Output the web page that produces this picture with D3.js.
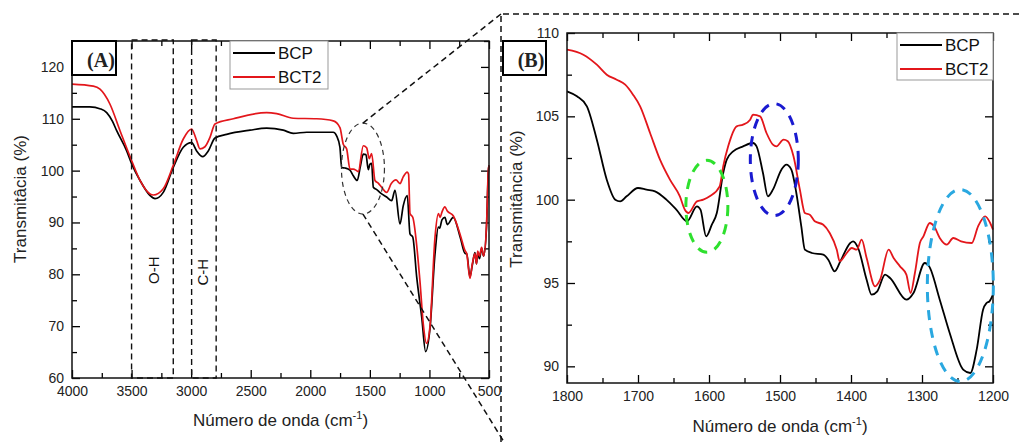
<!DOCTYPE html>
<html>
<head>
<meta charset="utf-8">
<script src="https://cdn.jsdelivr.net/npm/d3@7"></script>
<style>
body { margin: 0; background: #fff; }
svg { display: block; font-family: "Liberation Sans", Arial, sans-serif; }
</style>
</head>
<body>
<svg width="1022" height="442"></svg>
<script>
// FTIR spectra, [wavenumber, transmittance]
var seriesNames = ["BCP", "BCT2"];
var seriesColors = ["#000000", "#e3161b"];

var bcpA = [[4000,112.3],[3850,112.3],[3760,111.9],[3709,111.2],[3660,109.5],[3625,107.7],[3541,103.8],[3499,101.3],[3429,98.1],[3345,95.2],[3303,94.6],[3234,95.8],[3150,100.6],[3066,104.5],[2996,105.4],[2954,103.8],[2903,102.7],[2856,103.8],[2800,106.3],[2702,107],[2506,107.8],[2366,108.2],[2227,107.8],[2143,107.2],[2030,107.4],[1807,107.4],[1779,106.7],[1751,104.5],[1737,100.6],[1709,100.5],[1667,100.1],[1639,99.0],[1606,98.1],[1580,100.8],[1555,103.2],[1533,103.1],[1513,100.2],[1500,101.2],[1485,101.4],[1471,96.8],[1440,96.3],[1401,95.5],[1359,94.9],[1317,94.2],[1289,96.2],[1247,89.7],[1220,93.2],[1186,95.2],[1163,87.8],[1140,87.2],[1107,79.5],[1065,71.8],[1032,65.1],[995,69.6],[953,84],[925,89.1],[914,88.9],[895,90.5],[870,91],[850,89.6],[800,91],[740,87],[700,84],[687,84],[660,79.5],[640,81.8],[618,84.2],[605,82],[595,84],[580,83],[562,85],[545,83.5],[520,89.5],[506,99.5],[500,101]];

var bct2A = [[4000,116.7],[3821,116.3],[3765,115.7],[3681,112.8],[3597,107.7],[3499,101.9],[3429,98.1],[3345,95.5],[3317,95.3],[3234,96.5],[3150,101],[3066,106.1],[2996,108],[2954,105.8],[2926,104.2],[2884,104.6],[2842,106.4],[2800,109],[2646,110],[2366,111.2],[2282,111],[2143,110.1],[1947,110],[1807,109.6],[1751,108.3],[1723,105.1],[1695,104.2],[1667,100.3],[1639,100.3],[1611,100],[1597,99.8],[1555,104.8],[1527,104.4],[1505,102.3],[1485,103.3],[1457,98.1],[1430,97.6],[1401,96.8],[1359,95.8],[1320,97.5],[1281,98.2],[1247,97.5],[1220,98.8],[1186,99.7],[1175,99.3],[1163,91.7],[1140,91],[1080,78.8],[1052,70.5],[1024,66.7],[995,70],[953,87.2],[925,91.7],[910,91],[895,92],[870,93],[850,92.2],[800,91.3],[740,87.5],[700,84.5],[687,84],[660,79.2],[640,82],[618,84],[605,82],[595,84.5],[580,83.5],[562,85.2],[545,83.5],[520,90],[506,100],[500,101]];

var bcpB = [[1800,106.5],[1786,106.2],[1772,105.6],[1758,103.6],[1744,101.2],[1732,100.0],[1725,99.9],[1716,100.2],[1700,100.7],[1688,100.6],[1676,100.5],[1660,100],[1646,99.4],[1631,98.7],[1617,99.6],[1612,99.4],[1604,97.8],[1596,98.5],[1589,99.2],[1580,101.6],[1575,102.4],[1566,102.9],[1552,103.2],[1538,103.4],[1533,103.2],[1524,101.6],[1517,100.2],[1510,100.6],[1498,101.8],[1491,102.1],[1484,101.8],[1477,100.4],[1470,98.4],[1465,97],[1455,96.8],[1439,96.7],[1432,96.4],[1423,95.7],[1415,96.3],[1401,97.4],[1397,97.5],[1390,97.1],[1378,95.2],[1371,94.3],[1363,94.5],[1352,95.5],[1345,95.3],[1322,94.0],[1312,94.4],[1296,96.2],[1290,96.0],[1275,94],[1261,92],[1242,89.8],[1232,89.6],[1223,91],[1214,93.4],[1209,93.8],[1205,93.9],[1200,94.3]];

var bct2B = [[1800,109.0],[1777,108.7],[1758,108.1],[1744,107.5],[1730,107.2],[1718,106.9],[1707,106.3],[1697,105.6],[1683,104.0],[1669,102.4],[1655,101.2],[1641,100.2],[1634,99.4],[1629,99.2],[1617,99.9],[1608,100],[1599,100.2],[1585,100.8],[1580,102],[1573,103.2],[1561,104.4],[1552,104.5],[1542,104.8],[1538,105.1],[1528,105],[1519,104],[1510,103.3],[1505,103.2],[1495,103.6],[1489,103.5],[1481,102.6],[1472,100.6],[1465,99.2],[1458,99.1],[1451,98.7],[1439,98.5],[1430,98.0],[1420,97],[1416,96.3],[1406,96.8],[1399,97.1],[1392,97.0],[1385,97.6],[1378,96.5],[1366,94.8],[1359,95.2],[1347,97],[1340,96.5],[1331,96],[1322,95.5],[1316,94.4],[1310,95.6],[1303,97.4],[1298,97.8],[1289,98.6],[1283,98.4],[1275,97.7],[1265,97.3],[1256,97.7],[1245,97.5],[1230,97.4],[1221,98.4],[1211,99.0],[1204,98.6],[1200,98.2]];

var xTicksA = [4000,3500,3000,2500,2000,1500,1000,500];
var yTicksA = [60,70,80,90,100,110,120];
var xTicksB = [1800,1700,1600,1500,1400,1300,1200];
var yTicksB = [90,95,100,105,110];

// band markers in (A): [from, to, label]
var bandsA = [[3500,3150,"O-H"],[2996,2790,"C-H"]];
var bandLabelPos = [[3312,80.8],[2900,80.4]];

var svg = d3.select("svg");

function midTicks(t) {
    var out = [];
    for (var i = 0; i < t.length - 1; i++) out.push((t[i] + t[i+1]) / 2);
    return out;
}

function drawPanel(p) {
    var x = d3.scaleLinear().domain(p.xDomain).range([p.left, p.right]);
    var y = d3.scaleLinear().domain(p.yDomain).range([p.bottom, p.top]);
    var g = svg.append("g");

    function ax(axis, tr, vals, size, labels) {
        var a = axis.tickValues(vals).tickSize(size).tickSizeOuter(0).tickPadding(8)
            .tickFormat(labels ? d3.format("d") : "");
        var s = g.append("g").attr("transform", tr).call(a);
        s.select(".domain").remove();
        s.selectAll("line").attr("stroke", "#000").attr("stroke-width", 1.3);
        s.selectAll("text").attr("fill", "#222").style("font-size", "14px")
            .style("font-family", "'Liberation Sans', Arial, sans-serif");
    }
    var xMin = midTicks(p.xTicks).concat(p.xExtraMinor || []);
    var yMin = midTicks(p.yTicks).concat(p.yExtraMinor || []);
    ax(d3.axisBottom(x), "translate(0," + p.bottom + ")", p.xTicks, -8, true);
    ax(d3.axisBottom(x), "translate(0," + p.bottom + ")", xMin, -5, false);
    ax(d3.axisTop(x), "translate(0," + p.top + ")", p.xTicks, -8, false);
    ax(d3.axisTop(x), "translate(0," + p.top + ")", xMin, -5, false);
    ax(d3.axisLeft(y), "translate(" + p.left + ",0)", p.yTicks, -8, true);
    ax(d3.axisLeft(y), "translate(" + p.left + ",0)", yMin, -5, false);
    ax(d3.axisRight(y), "translate(" + p.right + ",0)", p.yTicks, -8, false);
    ax(d3.axisRight(y), "translate(" + p.right + ",0)", yMin, -5, false);

    var line = d3.line().x(function(d) { return x(d[0]); }).y(function(d) { return y(d[1]); })
        .curve(d3.curveMonotoneX);
    p.series.forEach(function(s, i) {
        g.append("path").datum(s).attr("fill", "none")
            .attr("stroke", seriesColors[i]).attr("stroke-width", p.lw)
            .attr("stroke-linejoin", "round").attr("d", line);
    });

    g.append("rect").attr("x", p.left).attr("y", p.top)
        .attr("width", p.right - p.left).attr("height", p.bottom - p.top)
        .attr("fill", "none").attr("stroke", "#111").attr("stroke-width", 1.5);

    // axis titles
    var xt = g.append("text").attr("x", (p.left + p.right) / 2 + p.xTitleDx).attr("y", p.xTitleY)
        .attr("text-anchor", "middle").style("font-size", "17px").attr("fill", "#222");
    xt.append("tspan").text("Número de onda (cm");
    xt.append("tspan").text("-1").attr("dy", -7).style("font-size", "11px");
    xt.append("tspan").text(")").attr("dy", 7);
    g.append("text").attr("transform", "translate(" + p.yTitleX + "," + p.yTitleY + ") rotate(-90)")
        .attr("text-anchor", "middle").style("font-size", "17px").attr("fill", "#222")
        .text(p.yTitle);

    // legend
    var L = p.legend;
    g.append("rect").attr("x", L.x).attr("y", L.y).attr("width", L.w).attr("height", L.h)
        .attr("fill", "#fff").attr("stroke", "#999").attr("stroke-width", 1);
    seriesNames.forEach(function(n, i) {
        var yy = L.y + 12 + i * 24;
        g.append("line").attr("x1", L.x + 3).attr("x2", L.x + 45).attr("y1", yy).attr("y2", yy)
            .attr("stroke", seriesColors[i]).attr("stroke-width", 2);
        g.append("text").attr("x", L.x + 48).attr("y", yy).attr("dy", "0.36em")
            .style("font-size", "17px").attr("fill", "#111").text(n);
    });

    // panel tag
    var T = p.tag;
    g.append("rect").attr("x", T.x).attr("y", T.y).attr("width", T.w).attr("height", T.h)
        .attr("fill", "#fff").attr("stroke", "#000").attr("stroke-width", 2);
    g.append("text").attr("x", T.x + T.w - 15).attr("y", T.y + T.h / 2 + 2).attr("dy", "0.35em")
        .attr("text-anchor", "middle").style("font-family", "'Liberation Serif', 'Times New Roman', serif")
        .style("font-weight", "bold").style("font-size", "20px").attr("fill", "#222").text(T.text);

    return { g: g, x: x, y: y };
}

// ---- zoom frame (drawn first, under panels) ----
var dash = "6,4";
svg.append("path").attr("d", "M501,442V14H1022").attr("fill", "none")
    .attr("stroke", "#111").attr("stroke-width", 1.5).attr("stroke-dasharray", dash);

var A = drawPanel({
    xDomain: [4000, 500], yDomain: [60, 125],
    left: 72, right: 489, top: 41, bottom: 378,
    xTicks: xTicksA, yTicks: yTicksA, yExtraMinor: [125],
    series: [bcpA, bct2A], lw: 1.7,
    xTitleDx: 0, xTitleY: 426, yTitleX: 26, yTitleY: 199, yTitle: "Transmitâcia (%)",
    legend: { x: 230, y: 41, w: 98, h: 48 },
    tag: { x: 72, y: 41, w: 44, h: 34, text: "(A)" }
});

// band rectangles in (A)
bandsA.forEach(function(b, i) {
    A.g.append("rect").attr("x", A.x(b[0])).attr("y", A.y(125) - 1)
        .attr("width", A.x(b[1]) - A.x(b[0])).attr("height", A.y(60) - A.y(125) + 1)
        .attr("fill", "none").attr("stroke", "#111").attr("stroke-width", 1.4)
        .attr("stroke-dasharray", dash);
    A.g.append("text").attr("transform", "translate(" + A.x(bandLabelPos[i][0]) + "," +
            A.y(bandLabelPos[i][1]) + ") rotate(-90)")
        .attr("text-anchor", "middle").attr("dy", "0.35em").style("font-size", "15px")
        .attr("fill", "#111").text(b[2]);
});

// zoom ellipse in (A) and connectors
var ex = A.x(1558), ey = A.y(100.4);
A.g.append("ellipse").attr("cx", ex).attr("cy", ey).attr("rx", 21.5).attr("ry", 45.5)
    .attr("fill", "none").attr("stroke", "#333").attr("stroke-width", 1.2).attr("stroke-dasharray", "5,4");
A.g.append("line").attr("x1", ex).attr("y1", ey - 45.5).attr("x2", 501).attr("y2", 14)
    .attr("stroke", "#111").attr("stroke-width", 1.5).attr("stroke-dasharray", dash);
A.g.append("line").attr("x1", ex).attr("y1", ey + 45.5).attr("x2", 504).attr("y2", 442)
    .attr("stroke", "#111").attr("stroke-width", 1.5).attr("stroke-dasharray", dash);

var B = drawPanel({
    xDomain: [1800, 1200], yDomain: [89, 110],
    left: 567, right: 993, top: 33, bottom: 383,
    xTicks: xTicksB, yTicks: yTicksB,
    series: [bcpB, bct2B], lw: 1.8,
    xTitleDx: 0, xTitleY: 432, yTitleX: 522, yTitleY: 199, yTitle: "Transmitância (%)",
    legend: { x: 897, y: 33, w: 96, h: 47 },
    tag: { x: 503, y: 41, w: 43, h: 34, text: "(B)" }
});

// highlighted regions in (B): [wavenumber, T, rx, ry, colour]
var marksB = [[1603, 99.6, 21, 46, "#2ee02e"], [1508, 102.4, 24, 56, "#1a1ad0"], [1246, 94.85, 33, 96, "#2aa8e0"]];
marksB.forEach(function(m) {
    B.g.append("ellipse").attr("cx", B.x(m[0])).attr("cy", B.y(m[1])).attr("rx", m[2]).attr("ry", m[3])
        .attr("fill", "none").attr("stroke", m[4]).attr("stroke-width", 3)
        .attr("stroke-dasharray", "10,8");
});
</script>
</body>
</html>
